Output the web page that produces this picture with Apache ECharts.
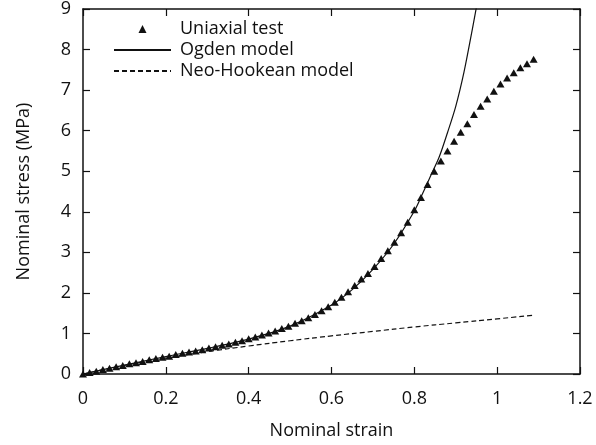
<!DOCTYPE html>
<html>
<head>
<meta charset="utf-8">
<script src="https://cdn.jsdelivr.net/npm/echarts@6/dist/echarts.min.js"></script>
<style>
  html, body { margin: 0; padding: 0; background: #fff; }
  #chart { width: 596px; height: 445px; }
</style>
</head>
<body>
<div id="chart"></div>
<script>
// uniaxial test points (nominal strain, nominal stress MPa)
const testStrain = [
  0, 0.016, 0.032, 0.048, 0.064, 0.080, 0.096, 0.112, 0.128, 0.144,
  0.160, 0.176, 0.192, 0.208, 0.224, 0.240, 0.256, 0.272, 0.288, 0.304,
  0.320, 0.336, 0.352, 0.368, 0.384, 0.400, 0.416, 0.432, 0.448, 0.464,
  0.480, 0.496, 0.512, 0.528, 0.544, 0.560, 0.576, 0.592, 0.608, 0.624,
  0.640, 0.656, 0.672, 0.688, 0.704, 0.720, 0.736, 0.752, 0.768, 0.784,
  0.800, 0.816, 0.832, 0.848, 0.864, 0.880, 0.896, 0.912, 0.928, 0.944,
  0.960, 0.976, 0.992, 1.008, 1.024, 1.040, 1.056, 1.072, 1.088
]
const testStress = [
  0.00, 0.04, 0.07, 0.11, 0.14, 0.18, 0.21, 0.25, 0.28, 0.31,
  0.35, 0.38, 0.41, 0.44, 0.48, 0.51, 0.54, 0.57, 0.60, 0.64,
  0.67, 0.71, 0.74, 0.78, 0.82, 0.87, 0.91, 0.96, 1.01, 1.06,
  1.12, 1.18, 1.25, 1.31, 1.39, 1.47, 1.56, 1.66, 1.77, 1.89,
  2.03, 2.18, 2.34, 2.48, 2.65, 2.85, 3.04, 3.25, 3.48, 3.74,
  4.05, 4.35, 4.67, 5.00, 5.25, 5.50, 5.74, 5.96, 6.17, 6.40,
  6.60, 6.78, 6.97, 7.15, 7.30, 7.43, 7.55, 7.65, 7.76
]

// Ogden model curve
const ogdenStrain = [0, 0.1, 0.2, 0.3, 0.4, 0.5, 0.6, 0.65, 0.7, 0.75, 0.8, 0.82, 0.84, 0.86, 0.88, 0.9, 0.92, 0.94, 0.96]
const ogdenStress = [0, 0.22, 0.43, 0.63, 0.86, 1.18, 1.7, 2.08, 2.58, 3.2, 4.02, 4.45, 4.9, 5.35, 5.95, 6.6, 7.45, 8.5, 9.6]

// Neo-Hookean model curve
const neoStrain = [0, 0.1, 0.2, 0.3, 0.4, 0.5, 0.6, 0.7, 0.8, 0.9, 1.0, 1.09]
const neoStress = [0, 0.21, 0.39, 0.55, 0.69, 0.82, 0.94, 1.05, 1.16, 1.26, 1.36, 1.45]

const pairs = (xs, ys) => xs.map((x, i) => [x, ys[i]])

const FONT = '"Open Sans", "Noto Sans", sans-serif'
const INK = '#111'
const FS = 18
const triPath = 'path://M0,10 L5,0 L10,10 Z'

// ticks point inwards on all four sides
const axisCommon = {
  type: 'value',
  axisLine: { show: true, onZero: false, lineStyle: { color: INK, width: 1.5 } },
  axisTick: { show: true, inside: true, length: 7, lineStyle: { color: INK, width: 1.2 } },
  splitLine: { show: false }
}

const chart = echarts.init(document.getElementById('chart'))
chart.setOption({
  animation: false,
  grid: { left: 83, right: 16, top: 8, bottom: 70 },
  legend: {
    orient: 'vertical',
    left: 108, top: 15,
    itemWidth: 57, itemHeight: 8,
    itemGap: 3,
    textStyle: { fontFamily: FONT, fontSize: FS, color: INK, padding: [0, 0, 0, 4] },
    data: [
      'Uniaxial test',
      { name: 'Ogden model', itemStyle: { opacity: 0 } },
      { name: 'Neo-Hookean model', itemStyle: { opacity: 0 } }
    ]
  },
  xAxis: [
    {
      ...axisCommon,
      min: 0, max: 1.2, interval: 0.2,
      name: 'Nominal strain',
      nameLocation: 'middle', nameGap: 48,
      nameTextStyle: { fontFamily: FONT, fontSize: FS, color: INK },
      axisLabel: { color: INK, fontFamily: FONT, fontSize: FS, margin: 16 }
    },
    {
      ...axisCommon,
      position: 'top',
      min: 0, max: 1.2, interval: 0.2,
      axisLabel: { show: false }
    }
  ],
  yAxis: [
    {
      ...axisCommon,
      min: 0, max: 9, interval: 1,
      name: 'Nominal stress (MPa)',
      nameLocation: 'middle', nameGap: 50,
      nameTextStyle: { fontFamily: FONT, fontSize: FS, color: INK },
      axisLabel: { color: INK, fontFamily: FONT, fontSize: FS, margin: 12 }
    },
    {
      ...axisCommon,
      position: 'right',
      min: 0, max: 9, interval: 1,
      axisLabel: { show: false }
    }
  ],
  series: [
    {
      name: 'Uniaxial test',
      type: 'scatter',
      data: pairs(testStrain, testStress),
      symbol: triPath,
      symbolKeepAspect: true,
      symbolSize: [8, 7],
      itemStyle: { color: INK, opacity: 1 },
      z: 3
    },
    {
      name: 'Ogden model',
      type: 'line',
      data: pairs(ogdenStrain, ogdenStress),
      smooth: 0.3,
      showSymbol: false,
      symbol: 'none',
      lineStyle: { color: INK, width: 1.2 },
      itemStyle: { color: INK },
      z: 4
    },
    {
      name: 'Neo-Hookean model',
      type: 'line',
      data: pairs(neoStrain, neoStress),
      smooth: true,
      showSymbol: false,
      symbol: 'none',
      lineStyle: { color: INK, width: 1.2, type: [5, 3] },
      itemStyle: { color: INK },
      z: 2
    }
  ]
})
</script>
</body>
</html>
